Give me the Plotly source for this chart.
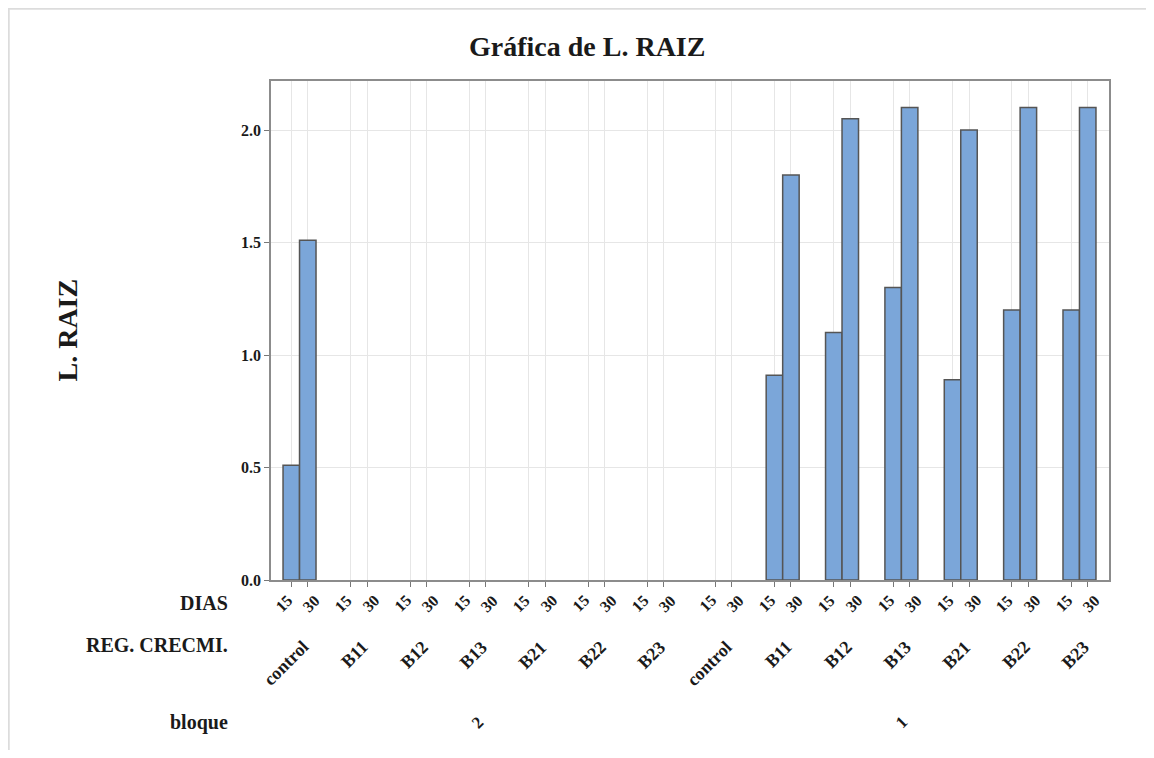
import plotly.graph_objects as go

# data
bloque = ["2"] * 7 + ["1"] * 7
reg_crecmi = ["control", "B11", "B12", "B13", "B21", "B22", "B23"] * 2
dias = ["15", "30"]
raiz_15 = [0.51, None, None, None, None, None, None, None, 0.91, 1.10, 1.30, 0.89, 1.20, 1.20]
raiz_30 = [1.51, None, None, None, None, None, None, None, 1.80, 2.05, 2.10, 2.00, 2.10, 2.10]
y_ticks = [0.0, 0.5, 1.0, 1.5, 2.0]

# layout geometry, in page pixels (page has an 8px body margin)
OFF = 8
W, H = 1154 - 2 * OFF, 758 - 2 * OFF
L, R, T, B = 271 - OFF, 1109 - OFF, 81 - OFF, 580 - OFF
GROUP_STEP = 3.6
BLOQUE_GAP = 0.5

def group_pos(i):
    extra = BLOQUE_GAP if bloque[i] != bloque[0] else 0
    return i * GROUP_STEP + extra

x15 = [group_pos(i) for i in range(len(reg_crecmi))]
x30 = [p + 1 for p in x15]
centers = [p + 0.5 for p in x15]

def py(p):  # page pixel y -> paper y
    return (B - (p - OFF)) / (B - T)

def px(p):  # page pixel x -> paper x
    return ((p - OFF) - L) / (R - L)

serif = "Liberation Serif"
ink = "#1a1a1a"
bar_fill = "#7ba6d9"
bar_edge = "#555555"

fig = go.Figure()
for xs, vals, name in [(x15, raiz_15, dias[0]), (x30, raiz_30, dias[1])]:
    fig.add_trace(go.Bar(
        x=xs, y=vals, name=name, width=1,
        marker=dict(color=bar_fill, line=dict(color=bar_edge, width=1.5)),
        showlegend=False,
    ))

ticks = sorted(x15 + x30)
fig.update_xaxes(
    range=[-1.23, x30[-1] + 1.29],
    tickvals=ticks, showticklabels=False,
    ticks="outside", ticklen=5, tickcolor="#777777",
    showgrid=True, gridcolor="#e6e6e6", gridwidth=1,
    showline=True, mirror=True, linecolor="#8c8c8c", linewidth=1.5,
    zeroline=False,
)
fig.update_yaxes(
    range=[0, 2.218],
    tickvals=y_ticks, tickformat=".1f",
    ticks="outside", ticklen=5, tickcolor="#777777",
    tickfont=dict(family=serif, size=16, color=ink, weight="bold"),
    showgrid=True, gridcolor="#e6e6e6", gridwidth=1,
    showline=True, mirror=True, linecolor="#8c8c8c", linewidth=1.5,
    zeroline=False,
)

ann = []
# DIAS labels
for a, b in zip(x15, x30):
    ann.append(dict(x=a, xref="x", y=py(589), yref="paper", text="<b>15</b>",
                    textangle=-45, xanchor="right", yanchor="top", showarrow=False,
                    xshift=7, font=dict(family=serif, size=16, color=ink)))
    ann.append(dict(x=b, xref="x", y=py(589), yref="paper", text="<b>30</b>",
                    textangle=-45, xanchor="right", yanchor="top", showarrow=False,
                    xshift=18, font=dict(family=serif, size=16, color=ink)))
# REG. CRECMI. labels
for c, lab in zip(centers, reg_crecmi):
    ann.append(dict(x=c, xref="x", y=py(634), yref="paper", text=f"<b>{lab}</b>",
                    textangle=-45, xanchor="right", yanchor="top", showarrow=False,
                    xshift=16, font=dict(family=serif, size=18, color=ink)))
# bloque labels
for blq in ["2", "1"]:
    idx = [i for i, b in enumerate(bloque) if b == blq]
    mid = (centers[idx[0]] + centers[idx[-1]]) / 2
    ann.append(dict(x=mid, xref="x", y=py(722), yref="paper", text=f"<b>{blq}</b>",
                    textangle=-45, xanchor="center", yanchor="middle", showarrow=False,
                    font=dict(family=serif, size=17, color=ink)))
# row headers
for txt, yy in [("DIAS", 603), ("REG. CRECMI.", 645), ("bloque", 722)]:
    ann.append(dict(x=px(230), xref="paper", y=py(yy), yref="paper", text=f"<b>{txt}</b>",
                    xanchor="right", yanchor="middle", showarrow=False,
                    font=dict(family=serif, size=20, color=ink)))
# y axis title
ann.append(dict(x=px(67), xref="paper", y=0.5, yref="paper", text="<b>L. RAIZ</b>",
                textangle=-90, xanchor="center", yanchor="middle", showarrow=False,
                font=dict(family=serif, size=28, color=ink)))
# chart title
ann.append(dict(x=px(587), xref="paper", y=py(47), yref="paper", text="<b>Gráfica de L. RAIZ</b>",
                xanchor="center", yanchor="middle", showarrow=False,
                font=dict(family=serif, size=28, color=ink)))

# outer graph frame (only top and left edges visible)
frame = [
    dict(type="line", xref="paper", yref="paper", x0=px(OFF), x1=px(1154), y0=py(OFF + 0.5), y1=py(OFF + 0.5),
         line=dict(color="#dcdcdc", width=2.5)),
    dict(type="line", xref="paper", yref="paper", x0=px(OFF + 0.5), x1=px(OFF + 0.5), y0=py(OFF), y1=py(758),
         line=dict(color="#dcdcdc", width=2.5)),
]

fig.update_layout(
    width=W, height=H,
    margin=dict(l=L, r=W - R, t=T, b=H - B),
    paper_bgcolor="white", plot_bgcolor="white",
    barmode="overlay",
    annotations=ann, shapes=frame,
)

fig.write_html("out.html")
